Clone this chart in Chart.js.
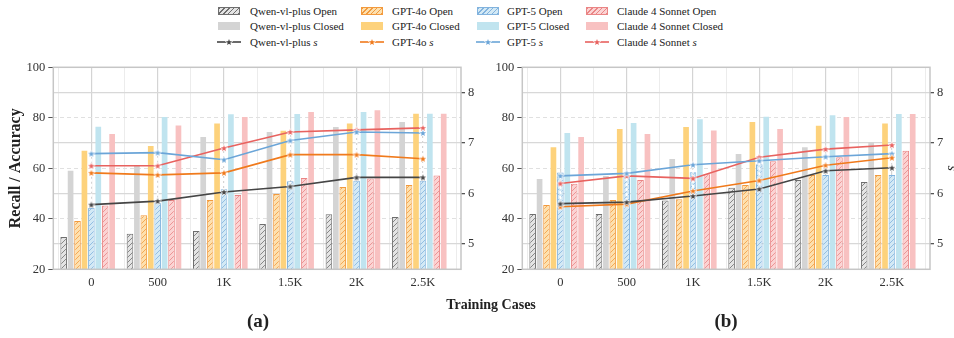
<!DOCTYPE html>
<html>
<head>
<meta charset="utf-8">
<script src="https://cdn.jsdelivr.net/npm/chart.js@4.4.1/dist/chart.umd.min.js"></script>
<style>
  body { margin: 0; width: 954px; height: 338px; overflow: hidden; background: #fff; position: relative;
         font-family: "Liberation Serif", "Times New Roman", serif; color: #222; }
  canvas { position: absolute; top: 0; }
  #chartA { left: 0; }
  #chartB { left: 478px; }
  .lg-box { position: absolute; width: 22px; height: 8px; box-sizing: border-box; }
  .lg-line { position: absolute; }
  .lg-text { position: absolute; font-size: 11px; line-height: 14px; white-space: nowrap; }
  .xtitle { position: absolute; font-weight: bold; font-size: 14px; transform: translate(-50%, -50%); white-space: nowrap; }
  .panel { position: absolute; font-weight: bold; font-size: 19px; transform: translate(-50%, -50%); }
</style>
</head>
<body>
<div id="legend"></div>
<canvas id="chartA" width="478" height="338"></canvas>
<canvas id="chartB" width="482" height="338"></canvas>
<div class="xtitle" style="left:491px;top:305px">Training Cases</div>
<div class="panel" style="left:258px;top:321px">(a)</div>
<div class="panel" style="left:726px;top:321px">(b)</div>
<script>
const caseLabels = ['0', '500', '1K', '1.5K', '2K', '2.5K'];
const yTicks = [20, 40, 60, 80, 100];
const sTicks = [5, 6, 7, 8];

// panel (a)
const qwenOpenA     = [32.8, 34.1, 35.2, 37.9, 41.8, 40.7];
const qwenClosedA   = [59.0, 61.2, 72.4, 74.4, 76.4, 78.3];
const gpt4oOpenA    = [39.1, 41.4, 47.4, 49.8, 52.6, 53.4];
const gpt4oClosedA  = [67.0, 68.8, 77.7, 74.9, 77.7, 81.6];
const gpt5OpenA     = [44.3, 46.4, 51.7, 54.9, 55.1, 55.1];
const gpt5ClosedA   = [76.5, 80.3, 81.4, 81.5, 82.3, 81.6];
const claudeOpenA   = [45.3, 47.4, 49.4, 56.2, 56.0, 57.1];
const claudeClosedA = [73.6, 77.0, 80.3, 82.3, 83.0, 81.6];
const qwenSA   = [5.78, 5.85, 6.03, 6.14, 6.32, 6.32];
const gpt4oSA  = [6.41, 6.37, 6.41, 6.77, 6.77, 6.69];
const gpt5SA   = [6.79, 6.81, 6.67, 7.05, 7.22, 7.20];
const claudeSA = [6.55, 6.55, 6.90, 7.22, 7.26, 7.30];

// panel (b)
const qwenOpenB     = [41.9, 41.9, 47.2, 52.3, 55.4, 54.6];
const qwenClosedB   = [55.8, 57.0, 63.7, 65.7, 68.3, 70.4];
const gpt4oOpenB    = [45.5, 47.4, 47.7, 53.4, 57.3, 57.3];
const gpt4oClosedB  = [68.3, 75.6, 76.4, 78.3, 76.9, 77.7];
const gpt5OpenB     = [58.3, 56.7, 58.4, 61.6, 57.3, 57.3];
const gpt5ClosedB   = [74.0, 77.9, 79.4, 80.4, 81.0, 81.5];
const claudeOpenB   = [53.9, 55.4, 57.6, 62.8, 64.4, 67.0];
const claudeClosedB = [72.4, 73.6, 75.0, 75.6, 80.3, 81.5];
const qwenSB   = [5.80, 5.83, 5.95, 6.09, 6.45, 6.51];
const gpt4oSB  = [5.74, 5.79, 6.05, 6.26, 6.56, 6.71];
const gpt5SB   = [6.35, 6.40, 6.57, 6.65, 6.73, 6.79];
const claudeSB = [6.20, 6.35, 6.30, 6.72, 6.88, 6.96];

const models = ['Qwen-vl-plus', 'GPT-4o', 'GPT-5', 'Claude 4 Sonnet'];
const openFill   = ['#e4e4e4', '#fde0ae', '#d3e9f5', '#fbd3d3'];
const openEdge   = ['#6e6e6e', '#f29a3e', '#82b3de', '#ea8585'];
const closedFill = ['#d4d4d4', '#fdd27c', '#c0e4ef', '#f8c1c1'];
const lineColor  = ['#454545', '#f07a1c', '#6ba5d8', '#e8625f'];

const FONT = '"Liberation Serif", "Times New Roman", serif';

const starIcon = (color) => {
  const c = document.createElement('canvas');
  c.width = c.height = 10;
  const g = c.getContext('2d');
  g.beginPath();
  for (let k = 0; k < 10; k++) {
    const r = k % 2 ? 1.4 : 3.3;
    const a = -Math.PI / 2 + k * Math.PI / 5;
    g.lineTo(5 + r * Math.cos(a), 5.3 + r * Math.sin(a));
  }
  g.closePath();
  g.lineJoin = 'round';
  g.lineWidth = 1.3;
  g.strokeStyle = '#fff';
  g.stroke();
  g.fillStyle = color;
  g.fill();
  return c;
};
const stars = lineColor.map(starIcon);

const hatch = (ctx, fill, line) => {
  const c = document.createElement('canvas');
  c.width = c.height = 5;
  const g = c.getContext('2d');
  g.fillStyle = fill;
  g.fillRect(0, 0, 5, 5);
  g.strokeStyle = line;
  g.lineWidth = 0.8;
  g.beginPath();
  g.moveTo(0, 5); g.lineTo(5, 0);
  g.moveTo(-1, 1); g.lineTo(1, -1);
  g.moveTo(4, 6); g.lineTo(6, 4);
  g.stroke();
  return ctx.createPattern(c, 'repeat');
};

const pts = (arr) => arr.map((y, x) => ({ x, y }));

// white dashed guide through the markers + plot frame
const guides = {
  id: 'guides',
  afterDatasetDraw(chart, args) {
    if (args.index !== 0) return;
    const { ctx, scales: { x, y2 } } = chart;
    const series = chart.data.datasets.filter(d => d.type === 'line').map(d => d.data.map(p => p.y));
    ctx.save();
    ctx.strokeStyle = '#ffffff';
    ctx.lineWidth = 2;
    ctx.setLineDash([3, 2]);
    caseLabels.forEach((_, i) => {
      const vals = series.map(s => s[i]);
      const px = x.getPixelForValue(i);
      ctx.beginPath();
      ctx.moveTo(px, y2.getPixelForValue(Math.max(...vals)));
      ctx.lineTo(px, y2.getPixelForValue(Math.min(...vals)));
      ctx.stroke();
    });
    ctx.restore();
  },
  afterDraw(chart) {
    const { ctx, chartArea: a } = chart;
    ctx.save();
    ctx.strokeStyle = '#c6c6c6';
    ctx.lineWidth = 1.5;
    ctx.strokeRect(a.left, a.top, a.right - a.left, a.bottom - a.top);
    ctx.restore();
  }
};

const makeChart = (id, bars, lines, opts) => {
  const canvas = document.getElementById(id);
  const ctx = canvas.getContext('2d');
  const datasets = [];
  bars.forEach((pair, m) => {
    datasets.push({
      type: 'bar', label: models[m] + ' Open', data: pts(pair[0]), yAxisID: 'y', order: 1,
      backgroundColor: hatch(ctx, openFill[m], openEdge[m]), borderColor: openEdge[m], borderWidth: 1,
      barPercentage: 0.95, categoryPercentage: 0.94
    });
    datasets.push({
      type: 'bar', label: models[m] + ' Closed', data: pts(pair[1]), yAxisID: 'y', order: 1,
      backgroundColor: closedFill[m], borderWidth: 0,
      barPercentage: 0.82, categoryPercentage: 0.94
    });
  });
  // empty slot so that the GPT-5 Open bar sits on the tick, as in the source figure
  datasets.push({
    type: 'bar', label: 'spacer', data: pts(caseLabels.map(() => 20)), yAxisID: 'y', order: 1,
    backgroundColor: 'rgba(0,0,0,0)', borderWidth: 0, categoryPercentage: 0.94
  });
  lines.forEach((arr, m) => {
    datasets.push({
      type: 'line', label: models[m] + ' s', data: pts(arr), yAxisID: 'y2', order: 0,
      borderColor: lineColor[m], borderWidth: 1.6, pointStyle: stars[m], pointRadius: 4
    });
  });

  const tickFont = { family: FONT, size: 12.5 };
  return new Chart(ctx, {
    type: 'bar',
    data: { datasets },
    plugins: [guides],
    options: {
      responsive: false,
      animation: false,
      layout: { padding: { top: 67.3, left: 0, right: 0, bottom: 0 } },
      plugins: { legend: { display: false }, tooltip: { enabled: false } },
      scales: {
        x: {
          type: 'linear', min: -0.574, max: 5.574, offset: false,
          afterBuildTicks: (s) => { s.ticks = caseLabels.map((_, i) => ({ value: i })); },
          afterFit: (s) => { s.height = 68.7; },
          ticks: { callback: (v) => caseLabels[v] ?? '', font: tickFont, color: '#333', padding: 6, maxRotation: 0, autoSkip: false },
          grid: { color: '#d4d4d4', lineWidth: 1.2, drawTicks: false, offset: false },
          border: { display: false }
        },
        xMinor: {
          type: 'linear', position: 'bottom', min: -0.574, max: 5.574, offset: false,
          afterBuildTicks: (s) => { s.ticks = caseLabels.concat(['']).map((_, i) => ({ value: i - 0.5 })); },
          afterFit: (s) => { s.height = 0; },
          ticks: { display: false },
          grid: { color: '#ececec', lineWidth: 1, drawTicks: false, offset: false },
          border: { display: false }
        },
        y: {
          position: 'left', min: 20, max: 100,
          afterBuildTicks: (s) => { s.ticks = yTicks.map(value => ({ value })); },
          afterFit: (s) => { s.width = opts.leftWidth; },
          ticks: { font: tickFont, color: '#333', padding: 3 },
          grid: { color: '#e0e0e0', lineWidth: 1, tickColor: '#555', tickLength: 5 },
          border: { display: false, dash: [4, 3] },
          title: opts.leftTitle ? {
            display: true, text: opts.leftTitle, color: '#222',
            font: { family: FONT, size: 16, weight: 'bold' }, padding: { top: 6, bottom: 0 }
          } : { display: false }
        },
        y2: {
          position: 'right', min: 4.5, max: 8.5,
          afterBuildTicks: (s) => { s.ticks = sTicks.map(value => ({ value })); },
          afterFit: (s) => { s.width = opts.rightWidth; },
          ticks: { font: tickFont, color: '#333', padding: 3 },
          grid: { color: '#d8d8d8', lineWidth: 1.3, tickColor: '#555', tickLength: 4 },
          border: { display: false },
          title: opts.rightTitle ? {
            display: true, text: opts.rightTitle, color: '#222',
            font: { family: FONT, size: 14, style: 'italic' }, padding: { top: 0, bottom: 0 }
          } : { display: false }
        }
      }
    }
  });
};

makeChart('chartA',
  [[qwenOpenA, qwenClosedA], [gpt4oOpenA, gpt4oClosedA], [gpt5OpenA, gpt5ClosedA], [claudeOpenA, claudeClosedA]],
  [qwenSA, gpt4oSA, gpt5SA, claudeSA],
  { leftWidth: 53.3, rightWidth: 17, leftTitle: 'Recall / Accuracy' });

makeChart('chartB',
  [[qwenOpenB, qwenClosedB], [gpt4oOpenB, gpt4oClosedB], [gpt5OpenB, gpt5ClosedB], [claudeOpenB, claudeClosedB]],
  [qwenSB, gpt4oSB, gpt5SB, claudeSB],
  { leftWidth: 44.3, rightWidth: 30, rightTitle: 's' });

// legend: 4 columns (one per model) x 3 rows (Open / Closed / s)
const legend = document.getElementById('legend');
const swatchX = [218, 361, 477, 586];
const textX = [250, 392, 507, 617];
const rowY = [11.3, 25.8, 41.5];
models.forEach((name, m) => {
  const open = document.createElement('div');
  open.className = 'lg-box';
  open.style.cssText = `left:${swatchX[m]}px;top:${rowY[0] - 4}px;border:1px solid ${openEdge[m]};` +
    `background:repeating-linear-gradient(135deg, ${openEdge[m]} 0 0.8px, ${openFill[m]} 0.8px 3.5px);`;
  legend.appendChild(open);

  const closed = document.createElement('div');
  closed.className = 'lg-box';
  closed.style.cssText = `left:${swatchX[m]}px;top:${rowY[1] - 4}px;background:${closedFill[m]};`;
  legend.appendChild(closed);

  const lc = document.createElement('canvas');
  lc.className = 'lg-line';
  lc.width = 24; lc.height = 12;
  lc.style.cssText = `left:${swatchX[m] - 1}px;top:${rowY[2] - 6}px;`;
  const g = lc.getContext('2d');
  g.strokeStyle = lineColor[m];
  g.lineWidth = 1.6;
  g.beginPath(); g.moveTo(0, 6); g.lineTo(24, 6); g.stroke();
  g.drawImage(starIcon(lineColor[m]), 7, 1);
  legend.appendChild(lc);

  [`${name} Open`, `${name} Closed`, `${name} <i>s</i>`].forEach((txt, r) => {
    const t = document.createElement('div');
    t.className = 'lg-text';
    t.style.left = textX[m] + 'px';
    t.style.top = (rowY[r] - 7) + 'px';
    t.innerHTML = txt;
    legend.appendChild(t);
  });
});
</script>
</body>
</html>
